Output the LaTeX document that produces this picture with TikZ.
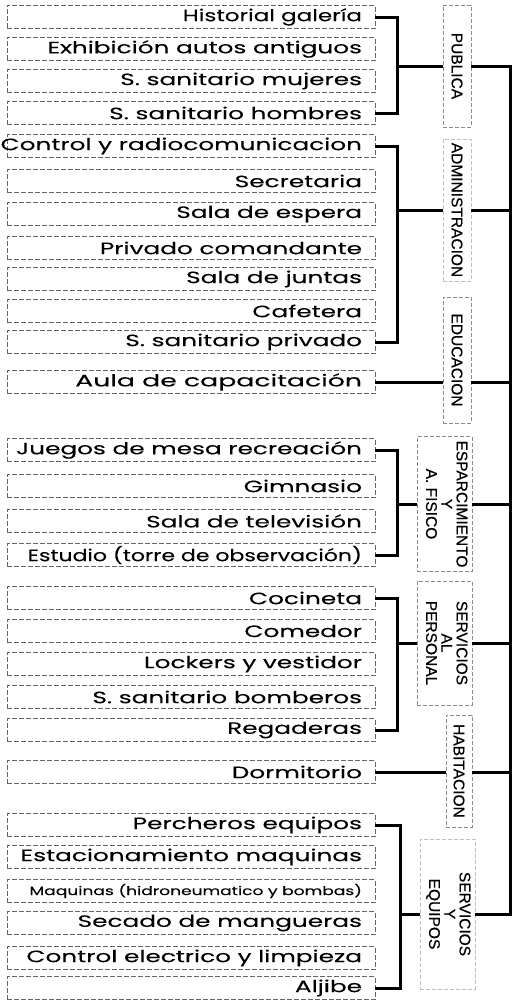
\documentclass[tikz,border=0pt]{standalone}
\usepackage{fontspec}
\setmainfont{Poppins}[FakeStretch=1.5, FakeBold=0.08]
\newfontfamily\grpfont{Liberation Sans}[FakeBold=0.5]
\newcommand{\rtext}[1]{\makebox[355pt][r]{#1}\hspace*{13pt}}
\tikzset{
  room/.style={draw=black!60, dash pattern=on 5pt off 2pt, line width=0.5pt,
    minimum width=368pt, minimum height=23pt, inner sep=0pt,
    font=\fontsize{16.5}{18}\selectfont},
  grp/.style={draw=black!45, dash pattern=on 4pt off 2pt, line width=0.5pt,
    inner sep=0pt, font=\grpfont\fontsize{15.5}{15}\selectfont},
  link/.style={line width=3pt}
}
\begin{document}
\begin{tikzpicture}[x=1pt,y=-1pt]
                \useasboundingbox (0,0) rectangle (515,1001);
                
                % Marking rooms of PUBLICA
                \node [room] (hist) at (191,17) {\rtext{\scalebox{0.93}[1]{Historial galería}}};%
                \node [room] (exhib) at (191,49) {\rtext{Exhibición autos antiguos}};%
                \node [room] (mujer) at (191,81) {\rtext{S. sanitario mujeres}};%
                \node [room] (homb) at (191,113) {\rtext{S. sanitario hombres}};%
                
                % Marking rooms of ADMINISTRACION
                \node [room] (ctrl) at (191,146) {\rtext{Control y radiocomunicacion}};%
                \node [room] (secr) at (191,181) {\rtext{Secretaria}};%
                \node [room] (espera) at (191,214) {\rtext{Sala de espera}};%
                \node [room] (priv) at (191,248) {\rtext{Privado comandante}};%
                \node [room] (juntas) at (191,279) {\rtext{Sala de juntas}};%
                \node [room] (cafe) at (191,311) {\rtext{Cafetera}};%
                \node [room] (sspriv) at (191,342) {\rtext{S. sanitario privado}};%
                
                % Marking room of EDUCACION
                \node [room] (aula) at (191,382) {\rtext{\scalebox{1.08}[1]{Aula de capacitación}}};%
                
                % Marking rooms of ESPARCIMIENTO
                \node [room] (juegos) at (191,450) {\rtext{Juegos de mesa recreación}};%
                \node [room] (gimn) at (191,486) {\rtext{Gimnasio}};%
                \node [room] (tele) at (191,521) {\rtext{Sala de televisión}};%
                \node [room] (estud) at (191,555) {\rtext{\scalebox{0.89}[1]{Estudio (torre de observación)}}};%
                
                % Marking rooms of SERVICIOS AL PERSONAL
                \node [room] (cocin) at (191,598) {\rtext{Cocineta}};%
                \node [room] (comed) at (191,631) {\rtext{Comedor}};%
                \node [room] (locker) at (191,664) {\rtext{Lockers y vestidor}};%
                \node [room] (ssbomb) at (191,697) {\rtext{S. sanitario bomberos}};%
                \node [room] (regad) at (191,730) {\rtext{Regaderas}};%
                
                % Marking room of HABITACION
                \node [room] (dorm) at (191,772) {\rtext{Dormitorio}};%
                
                % Marking rooms of SERVICIOS Y EQUIPOS
                \node [room] (perch) at (191,825) {\rtext{Percheros equipos}};%
                \node [room] (estac) at (191,857) {\rtext{Estacionamiento maquinas}};%
                \node [room] (maqui) at (191,891) {\rtext{\scalebox{0.69}[0.73]{Maquinas (hidroneumatico y bombas)}}};%
                \node [room] (secad) at (191,923) {\rtext{Secado de mangueras}};%
                \node [room] (celec) at (191,958) {\rtext{Control electrico y limpieza}};%
                \node [room] (aljib) at (191,988) {\rtext{Aljibe}};%
                
                % Marking groups
                \node [grp, minimum width=28pt, minimum height=122pt] (pub) at (457,66) {\rotatebox{-90}{PUBLICA}};%
                \node [grp, draw=black!25, minimum width=28pt, minimum height=142pt] (adm) at (457,210) {\rotatebox{-90}{ADMINISTRACION}};%
                \node [grp, minimum width=28pt, minimum height=126pt] (edu) at (457,360) {\rotatebox{-90}{EDUCACION}};%
                \node [grp, minimum width=55pt, minimum height=135pt] (esp) at (444.5,504) {\rotatebox{-90}{\begin{tabular}{@{}c@{}}ESPARCIMIENTO\\Y\\A. FISICO\end{tabular}}};%
                \node [grp, minimum width=55pt, minimum height=124pt] (pers) at (444.5,643) {\rotatebox{-90}{\begin{tabular}{@{}c@{}}SERVICIOS\\AL\\PERSONAL\end{tabular}}};%
                \node [grp, minimum width=26pt, minimum height=112pt] (hab) at (459,771) {\rotatebox{-90}{HABITACION}};%
                \node [grp, draw=black!25, minimum width=55pt, minimum height=150pt] (equ) at (447.5,914) {\rotatebox{-90}{\begin{tabular}{@{}c@{}}SERVICIOS\\Y\\EQUIPOS\end{tabular}}};%
                
                % Drawing brackets
                \coordinate (pubj) at (397,66);%
                \draw [link] (hist.east) -| (pubj) |- (homb.east);%
                \draw [link] (pubj) -- (pub.west);%
                \coordinate (admj) at (397,210);%
                \draw [link] (ctrl.east) -| (admj) |- (sspriv.east);%
                \draw [link] (admj) -- (adm.west);%
                \draw [link] (aula.east) -- (aula.east -| edu.west);%
                \coordinate (espj) at (397,504);%
                \draw [link] (juegos.east) -| (espj) |- (estud.east);%
                \draw [link] (espj) -- (esp.west);%
                \coordinate (persj) at (397,643);%
                \draw [link] (cocin.east) -| (persj) |- (regad.east);%
                \draw [link] (persj) -- (pers.west);%
                \draw [link] (dorm.east) -- (dorm.east -| hab.west);%
                \coordinate (equj) at (400,914);%
                \draw [link] (perch.east) -| (equj) |- (aljib.east);%
                \draw [link] (equj) -- (equ.west);%
                
                % Drawing spine
                \coordinate (spinebot) at (510,914);%
                \draw [link] (pub.east) -| (spinebot) -- (equ.east);%
                \draw [link] (adm.east) -- (adm.east -| spinebot);%
                \draw [link] (aula.east -| edu.east) -- (aula.east -| spinebot);%
                \draw [link] (esp.east) -- (esp.east -| spinebot);%
                \draw [link] (pers.east) -- (pers.east -| spinebot);%
                \draw [link] (dorm.east -| hab.east) -- (dorm.east -| spinebot);%
\end{tikzpicture}
\end{document}
